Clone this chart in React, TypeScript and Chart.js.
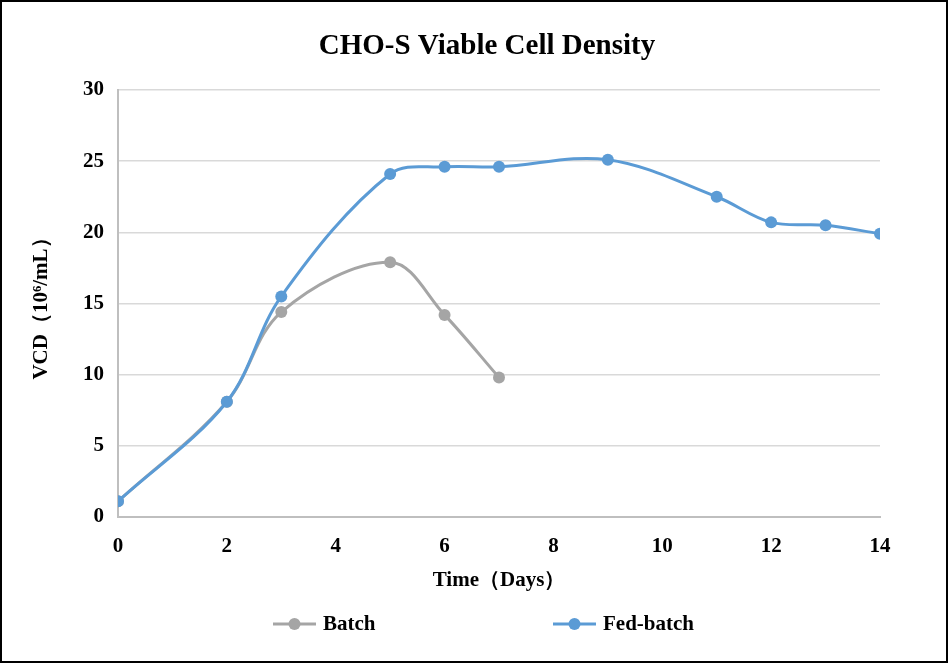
import React, { useEffect, useRef } from "react";
import { Chart, registerables } from "chart.js";

Chart.register(...registerables);

const titleText = "CHO-S Viable Cell Density";
const xTitle = "Time（Days）";
const yTitle = "VCD（10⁶/mL）";

const batchLabel = "Batch";
const batchDays = [0, 2, 3, 5, 6, 7];
const batchVcd = [1.1, 8.1, 14.4, 17.9, 14.2, 9.8];

const fedLabel = "Fed-batch";
const fedDays = [0, 2, 3, 5, 6, 7, 9, 11, 12, 13, 14];
const fedVcd = [1.1, 8.1, 15.5, 24.1, 24.6, 24.6, 25.1, 22.5, 20.7, 20.5, 19.9];

const batchColor = "#A5A5A5";
const fedColor = "#5B9BD5";
const FONT = "'Liberation Serif', 'Times New Roman', serif";

const decorPlugin = {
  id: "decor",
  afterDraw(chart: any) {
    const ctx = chart.ctx;
    const W = chart.width;
    const H = chart.height;
    ctx.save();
    // frame
    ctx.strokeStyle = "#000";
    ctx.lineWidth = 2;
    ctx.strokeRect(1, 1, W - 2, H - 2);
    // title
    ctx.fillStyle = "#000";
    ctx.font = `bold 29px ${FONT}`;
    ctx.textAlign = "center";
    ctx.textBaseline = "middle";
    ctx.fillText(titleText, W / 2 + 13, 47);
    // legend
    const items = [
      { label: batchLabel, color: batchColor },
      { label: fedLabel, color: fedColor },
    ];
    ctx.font = `bold 21px ${FONT}`;
    ctx.textBaseline = "middle";
    ctx.textAlign = "left";
    const y = 624;
    const starts = [W / 2 - 201, W / 2 + 79];
    items.forEach((it, i) => {
      const x0 = starts[i];
      ctx.strokeStyle = it.color;
      ctx.lineWidth = 3;
      ctx.beginPath();
      ctx.moveTo(x0, y);
      ctx.lineTo(x0 + 43, y);
      ctx.stroke();
      ctx.fillStyle = it.color;
      ctx.beginPath();
      ctx.arc(x0 + 21.5, y, 6, 0, Math.PI * 2);
      ctx.fill();
      ctx.fillStyle = "#000";
      ctx.fillText(it.label, x0 + 50, y + 1);
    });
    ctx.restore();
  },
};

export default function App() {
  const ref = useRef<HTMLCanvasElement | null>(null);
  useEffect(() => {
    document.body.style.margin = "0";
    const canvas = ref.current!;
    const chart = new Chart(canvas, {
      type: "line",
      data: {
        datasets: [
          {
            label: fedLabel,
            data: fedDays.map((d, i) => ({ x: d, y: fedVcd[i] })),
            borderColor: fedColor,
            backgroundColor: fedColor,
            borderWidth: 3,
            pointRadius: 6,
            pointBorderWidth: 0,
            tension: 0.35,
          },
          {
            label: batchLabel,
            data: batchDays.map((d, i) => ({ x: d, y: batchVcd[i] })),
            borderColor: batchColor,
            backgroundColor: batchColor,
            borderWidth: 3,
            pointRadius: 6,
            pointBorderWidth: 0,
            tension: 0.35,
          },
        ],
      },
      options: {
        animation: false,
        responsive: true,
        maintainAspectRatio: false,
        layout: { padding: { left: 20, right: 68, top: 90, bottom: 70 } },
        plugins: {
          legend: { display: false },
          tooltip: { enabled: false },
          title: { display: false },
        },
        scales: {
          x: {
            type: "linear",
            min: 0,
            max: 14,
            ticks: {
              stepSize: 2,
              color: "#000",
              padding: 17,
              font: { family: FONT, size: 21, weight: "bold" },
            },
            grid: { display: false, drawTicks: false },
            border: { display: true, color: "#BFBFBF", width: 2 },
            title: {
              display: true,
              text: xTitle,
              color: "#000",
              font: { family: FONT, size: 21, weight: "bold" },
              padding: { top: 0, bottom: 0 },
            },
            afterFit(scale: any) {
              scale.height = 76;
            },
          },
          y: {
            min: 0,
            max: 30,
            ticks: {
              stepSize: 5,
              color: "#000",
              padding: 14,
              font: { family: FONT, size: 21, weight: "bold" },
            },
            grid: { color: "#D9D9D9", lineWidth: 1.5, drawTicks: false },
            border: { display: true, color: "#BFBFBF", width: 2 },
            title: {
              display: true,
              text: yTitle,
              color: "#000",
              font: { family: FONT, size: 21, weight: "bold" },
              padding: { top: 9, bottom: 0 },
            },
            afterFit(scale: any) {
              scale.width = 98;
            },
          },
        },
      },
      plugins: [decorPlugin],
    });
    return () => chart.destroy();
  }, []);
  return (
    <div style={{ width: 948, height: 663, position: "relative", background: "#fff" }}>
      <canvas ref={ref} />
    </div>
  );
}
